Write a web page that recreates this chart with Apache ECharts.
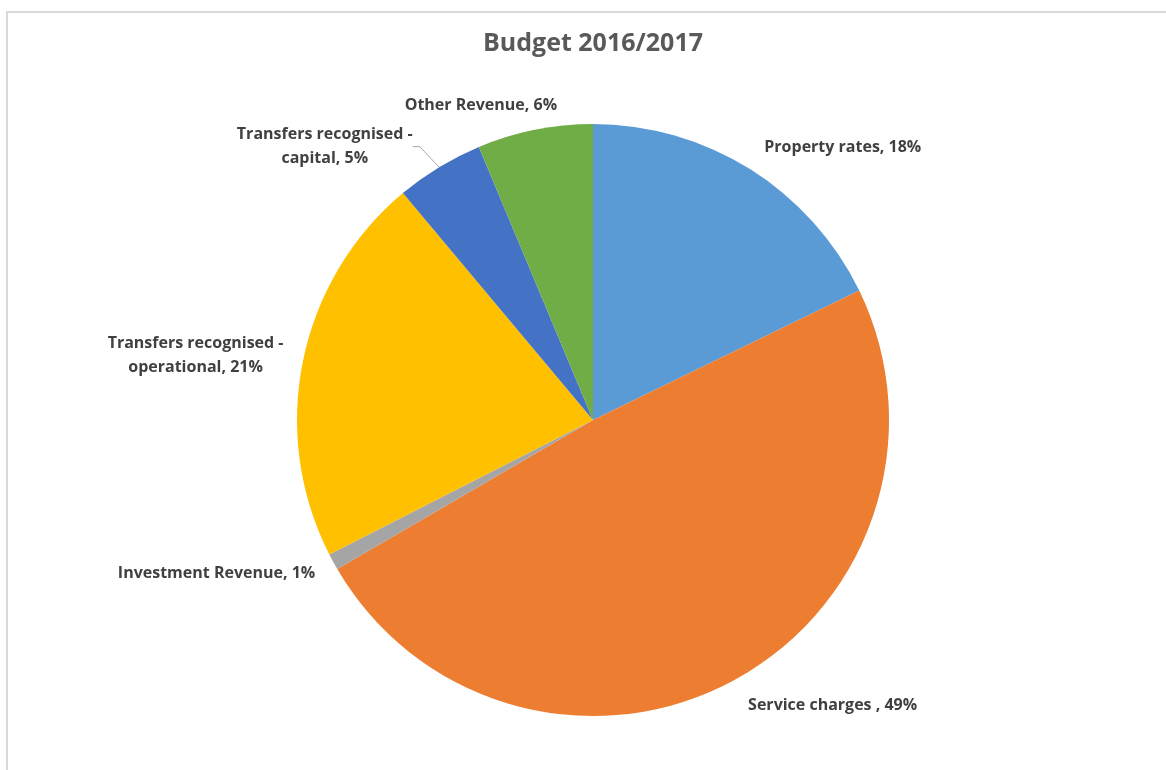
<!DOCTYPE html>
<html>
<head>
<meta charset="utf-8">
<script src="https://cdn.jsdelivr.net/npm/echarts@6/dist/echarts.min.js"></script>
<style>
html,body{margin:0;padding:0;background:#fff;}
#chart{width:1166px;height:770px;}
</style>
</head>
<body>
<div id="chart"></div>
<script>
const title = 'Budget 2016/2017';
const categories = ['Property rates', 'Service charges ', 'Investment Revenue', 'Transfers recognised - operational', 'Transfers recognised - capital', 'Other Revenue'];
const values = [17.8, 48.8, 0.9, 21.4, 4.8, 6.3];
const colors = ['#5B9BD5', '#ED7D31', '#A5A5A5', '#FFC000', '#4472C4', '#70AD47'];

const chart = echarts.init(document.getElementById('chart'));
const data = categories.map((name, i) => {
  const item = { name: name, value: values[i], itemStyle: { color: colors[i] } };
  if (name === 'Transfers recognised - capital') {
    item.labelLine = { show: true, length: 24, length2: 7, lineStyle: { color: '#A6A6A6', width: 1 } };
  }
  return item;
});

chart.setOption({
  animation: false,
  backgroundColor: '#ffffff',
  title: {
    text: title,
    left: 478,
    top: 26,
    textStyle: { fontFamily: 'Open Sans', fontWeight: 'bold', fontSize: 25, color: '#595959' }
  },
  graphic: [{
    type: 'rect',
    shape: { x: 7, y: 12, width: 1300, height: 900 },
    style: { fill: 'none', stroke: '#D9D9D9', lineWidth: 2 },
    silent: true
  }],
  series: [{
    type: 'pie',
    center: [593, 420],
    radius: 296,
    startAngle: 90,
    clockwise: true,
    avoidLabelOverlap: false,
    data: data,
    label: {
      show: true,
      position: 'outside',
      fontFamily: 'Open Sans',
      fontWeight: 'bold',
      fontSize: 16,
      lineHeight: 24,
      color: '#404040',
      distanceToLabelLine: 1,
      formatter: p => p.name.replace(' - ', ' -\n') + ', ' + Math.round(p.percent) + '%'
    },
    labelLine: { show: false, length: 25, length2: 0 },
    labelLayout: function (p) {
      const r = p.labelRect;
      if (p.dataIndex === 1) {
        return { dx: 3, dy: 2 };
      }
      if (p.dataIndex === 2) {
        return { dx: 5 };
      }
      if (p.dataIndex === 3) {
        return { x: r.x + r.width / 2 + 6, align: 'center' };
      }
      if (p.dataIndex === 4) {
        return { x: r.x + r.width / 2 - 6, align: 'center' };
      }
      if (p.dataIndex === 5) {
        return { x: r.x + r.width - 48, align: 'center' };
      }
      return {};
    }
  }]
});
</script>
</body>
</html>
